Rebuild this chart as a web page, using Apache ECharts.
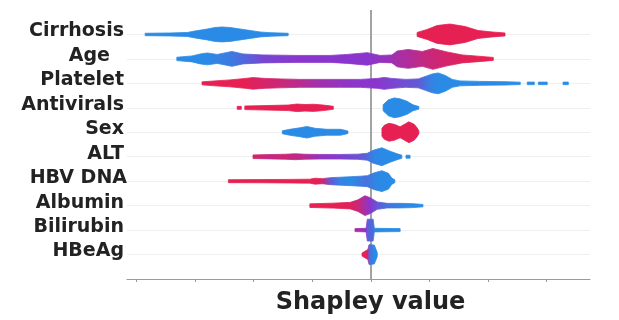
<!DOCTYPE html>
<html>
<head>
<meta charset="utf-8">
<script src="https://cdn.jsdelivr.net/npm/echarts@6/dist/echarts.min.js"></script>
<style>html,body{margin:0;padding:0;background:#fff}#chart{width:619px;height:320px}</style>
</head>
<body>
<div id="chart"></div>
<script>
// Feature names, top to bottom
const features = ['Cirrhosis', 'Age', 'Platelet', 'Antivirals', 'Sex', 'ALT', 'HBV DNA', 'Albumin', 'Bilirubin', 'HBeAg'];
// Shapley-axis ticks (no labels in the reference)
const xTicks = [-4, -3, -2, -1, 0, 1, 2, 3];
const xRange = [-4.16, 3.74];

// Beeswarm profiles.
// Each feature: list of runs; each run: [shapley value, point density (half spread), feature value 0=low..1=high]
const cirrhosis = [
  [[-3.85,1.2,0],[-3.43,1.5,0],[-3.13,2,0],[-3.00,3.5,0],[-2.79,5.5,0],[-2.66,7,0],[-2.54,7.5,0],[-2.40,7,0],[-2.29,6,0],[-2.06,4,0],[-1.89,2.5,0],[-1.72,1.8,0],[-1.41,1.2,0]],
  [[0.79,2,1],[0.96,5,1],[1.13,9,1],[1.35,10.5,1],[1.61,8,1],[1.83,4,1],[2.07,2.5,1],[2.29,1.5,1]]
];
const age = [
  [[-3.31,1.7,0],[-3.05,3,0],[-2.91,5,0],[-2.79,6,0],[-2.62,4.5,0.05],[-2.37,7.5,0.1],[-2.18,5,0.2],[-1.84,4,0.4],[-1.26,3.5,0.5],[-0.69,3.5,0.5],[-0.40,4.5,0.5],[-0.06,6.3,0.5],[0.16,3.5,0.55],[0.36,4,0.6],[0.45,8,0.65],[0.64,9.5,0.7],[0.88,7.5,0.8],[1.06,10.5,0.85],[1.30,7,0.9],[1.56,4,0.95],[1.78,3,1],[2.09,1.5,1]]
];
const platelet = [
  [[-2.88,1.5,1],[-2.66,2.5,1],[-2.40,3.5,1],[-2.14,5,1],[-2.01,5.8,0.95],[-1.80,5,0.9],[-1.55,4.5,0.85],[-1.21,4,0.75],[-0.95,4,0.65],[-0.52,4,0.55],[-0.18,4,0.5],[0.11,5,0.5],[0.23,6,0.45],[0.36,5,0.42],[0.59,4,0.35],[0.81,4.5,0.3],[0.93,7,0.15],[1.05,9.5,0.05],[1.15,10.5,0],[1.27,8,0],[1.39,4,0],[1.52,2.5,0],[1.86,2,0],[2.29,1.7,0],[2.55,1.2,0]],
  [[2.67,1.3,0],[2.79,1.3,0]],
  [[2.86,1.3,0],[3.01,1.3,0]],
  [[3.28,1.3,0],[3.37,1.3,0]]
];
const antivirals = [
  [[-2.28,1.5,1],[-2.21,1.5,1]],
  [[-2.15,1.8,1],[-1.77,2.3,1],[-1.41,2.8,1],[-1.26,3.8,1],[-1.12,3.3,1],[-0.98,3.6,1],[-0.81,2.8,1],[-0.64,1.5,1]],
  [[0.21,3,0],[0.30,8,0],[0.40,10,0],[0.50,9,0],[0.62,6.5,0],[0.72,3,0],[0.82,1.3,0]]
];
const sex = [
  [[-1.51,1.5,0],[-1.38,3,0],[-1.21,4.5,0],[-1.09,5.8,0],[-0.95,4,0],[-0.75,3,0],[-0.52,3,0],[-0.44,2,0],[-0.39,1.2,0]],
  [[0.19,4,1],[0.23,7,1],[0.31,9,1],[0.40,8,1],[0.50,5.5,1],[0.59,8.5,1],[0.65,10.5,1],[0.74,8,1],[0.79,4.5,1],[0.82,1.5,1]]
];
const alt = [
  [[-2.01,1.8,0.9],[-1.72,2.2,0.8],[-1.46,2.5,0.85],[-1.29,3,0.8],[-1.12,2.5,0.75],[-0.87,2.3,0.55],[-0.52,2.3,0.45],[-0.22,2.6,0.35],[-0.06,3.5,0.2],[0.04,6.5,0.05],[0.19,9,0],[0.33,5.5,0],[0.45,3,0],[0.53,1.5,0]],
  [[0.60,1.5,0],[0.67,1.5,0]]
];
const hbvDna = [
  [[-2.43,1.5,1],[-1.89,1.6,1],[-1.38,1.8,1],[-1.04,2,1],[-0.95,3,1],[-0.83,2.5,0.9],[-0.69,3.5,0.3],[-0.52,4,0.05],[-0.35,4.5,0],[-0.18,5,0.1],[-0.06,5.5,0.15],[0.06,8.5,0.05],[0.19,10.5,0],[0.30,8,0],[0.36,3,0],[0.41,1.5,0]]
];
const albumin = [
  [[-1.04,1.8,1],[-0.64,2.5,1],[-0.35,3.3,0.95],[-0.22,5.8,0.85],[-0.10,10,0.65],[-0.01,8,0.5],[0.11,3.7,0.3],[0.28,2.3,0.15],[0.50,2.3,0.05],[0.72,2,0],[0.89,1.2,0]]
];
const bilirubin = [
  [[-0.27,1.5,0.7],[-0.08,1.8,0.5],[-0.06,11,0.25],[0.04,11,0.2],[0.06,1.8,0],[0.50,1.5,0]]
];
const hbeag = [
  [[-0.15,1.5,1],[-0.08,4,1],[-0.05,5,0.8],[-0.03,10,0.2],[0.06,9.5,0],[0.11,2,0]]
];

const profiles = [cirrhosis, age, platelet, antivirals, sex, alt, hbvDna, albumin, bilirubin, hbeag];

// colour map low -> high feature value
const cmap = ['#2a8be6', '#8a36cc', '#e62052'];
const DENSITY_PER_ROW = 24.6;

function hex2rgb(h) { return [parseInt(h.slice(1,3),16), parseInt(h.slice(3,5),16), parseInt(h.slice(5,7),16)]; }
const cmapRgb = cmap.map(hex2rgb);
function colorAt(t) {
  t = Math.max(0, Math.min(1, t));
  const s = t * (cmapRgb.length - 1);
  const i = Math.min(cmapRgb.length - 2, Math.floor(s));
  const f = s - i;
  const a = cmapRgb[i], b = cmapRgb[i + 1];
  return 'rgb(' + [0,1,2].map(k => Math.round(a[k] + (b[k] - a[k]) * f)).join(',') + ')';
}

const runList = [];
profiles.forEach((runs, row) => runs.forEach(run => runList.push({ row: row, run: run })));
const seriesData = runList.map(r => [r.run[0][0], r.run[r.run.length - 1][0], r.row]);

const chart = echarts.init(document.getElementById('chart'));

const labelFont = { fontFamily: 'DejaVu Sans', fontWeight: 'bold', fontSize: 19, color: '#222' };

chart.setOption({
  animation: false,
  grid: { left: 127, right: 29, top: 10, bottom: 39 },
  xAxis: {
    type: 'value', min: xRange[0], max: xRange[1],
    axisLine: { show: true, onZero: false, lineStyle: { color: '#9a9a9a', width: 1 } },
    axisTick: { show: true, length: 3, customValues: xTicks, lineStyle: { color: '#999' } },
    axisLabel: { show: false },
    splitLine: { show: false },
    name: 'Shapley value', nameLocation: 'middle', nameGap: 12,
    nameTextStyle: { fontFamily: 'DejaVu Sans', fontWeight: 'bold', fontSize: 24, color: '#222', padding: [0, 0, 0, 24] }
  },
  yAxis: {
    type: 'value', inverse: true, min: -1, max: 10, interval: 1,
    axisLine: { show: false }, axisTick: { show: false }, splitLine: { show: false },
    axisLabel: {
      margin: 0,
      formatter: function (v) {
        const name = features[v];
        if (name === undefined) return '';
        const key = name === 'Age' ? 'age' : (name === 'HBV DNA' ? 'hbv' : 'n');
        return '{' + key + '|' + name + '}';
      },
      rich: {
        n: Object.assign({ padding: [0, 3, 6, 0] }, labelFont),
        age: Object.assign({ padding: [0, 17, 6, 0] }, labelFont),
        hbv: Object.assign({ padding: [0, 0, 6, 0] }, labelFont)
      }
    }
  },
  series: [
    {
      type: 'scatter', data: [], z: 1, silent: true,
      markLine: {
        z: 1, silent: true, symbol: 'none', animation: false,
        label: { show: false },
        data: features.map((f, i) => ({ yAxis: i, lineStyle: { color: '#efefef', width: 1, type: 'solid' } }))
          .concat([{ xAxis: 0, lineStyle: { color: '#a3a3a3', width: 2, type: 'solid' } }])
      }
    },
    {
      type: 'custom', z: 10, silent: true,
      data: seriesData,
      encode: { x: [0, 1], y: 2 },
      renderItem: function (params, api) {
        const item = runList[params.dataIndex];
        const row = item.row, run = item.run;
        const k = api.size([0, 1])[1] / DENSITY_PER_ROW;
        const top = [], bot = [];
        run.forEach(p => {
          const c = api.coord([p[0], row]);
          top.push([c[0], c[1] - p[1] * k]);
          bot.unshift([c[0], c[1] + p[1] * k]);
        });
        const x0 = top[0][0], x1 = top[top.length - 1][0];
        const w = Math.max(1e-6, x1 - x0);
        const stops = run.map((p, i) => ({ offset: Math.max(0, Math.min(1, (top[i][0] - x0) / w)), color: colorAt(p[2]) }));
        const grad = new echarts.graphic.LinearGradient(x0, 0, x1, 0, stops, true);
        return {
          type: 'polygon',
          shape: { points: top.concat(bot) },
          style: { fill: grad, stroke: grad, lineWidth: 0.8 }
        };
      }
    }
  ]
});
</script>
</body>
</html>
